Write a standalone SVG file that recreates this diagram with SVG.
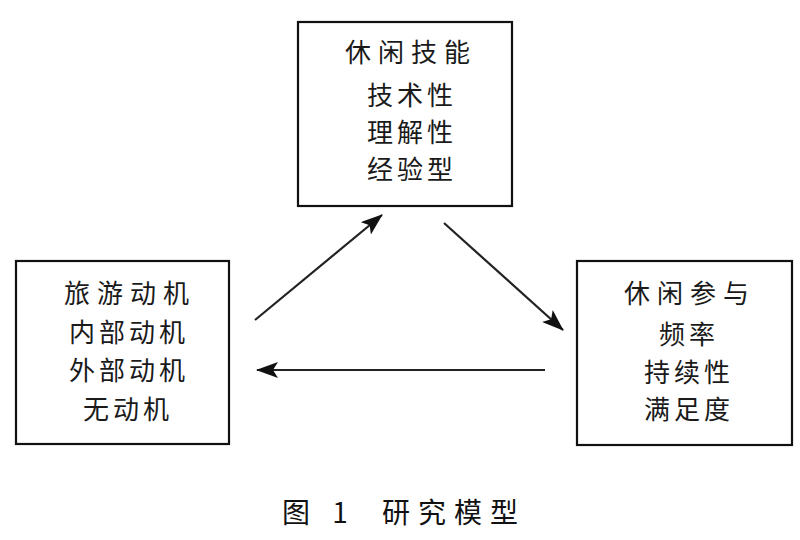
<svg xmlns="http://www.w3.org/2000/svg" width="800" height="540" viewBox="0 0 800 540">
<style>
.box{fill:#fff;stroke:#111;stroke-width:2.2}
.t{font-family:"Noto Sans CJK SC","Noto Sans CJK JP",sans-serif;font-size:26px;fill:#1a1a1a;text-anchor:middle}
.h{letter-spacing:7px}
.i{letter-spacing:4px}
.cap{font-family:"Noto Sans CJK SC",sans-serif;font-size:28px;fill:#111;letter-spacing:8px}
.c{stroke:#222;stroke-width:2.2;fill:none;marker-end:url(#ah)}
</style>
<defs>
<marker id="ah" markerUnits="userSpaceOnUse" viewBox="0 0 22 16" refX="21" refY="8" markerWidth="22" markerHeight="16" orient="auto">
<path d="M0,0 L22,8 L0,16 L5,8 Z" fill="#111"/>
</marker>
</defs>
<rect width="800" height="540" fill="#fff"/>
<g id="skills">
<rect class="box" x="298" y="22" width="214" height="184"/>
<text class="t h" x="411" y="62">休闲技能</text>
<text class="t i" x="412" y="105">技术性</text>
<text class="t i" x="412" y="142">理解性</text>
<text class="t i" x="412" y="179">经验型</text>
</g>
<g id="motivation">
<rect class="box" x="16" y="261" width="213" height="183"/>
<text class="t h" x="130" y="303">旅游动机</text>
<text class="t i" x="129" y="342">内部动机</text>
<text class="t i" x="129" y="380">外部动机</text>
<text class="t i" x="128" y="419">无动机</text>
</g>
<g id="participation">
<rect class="box" x="577" y="261" width="215" height="184"/>
<text class="t h" x="690" y="303">休闲参与</text>
<text class="t i" x="689" y="344">频率</text>
<text class="t i" x="689" y="382">持续性</text>
<text class="t i" x="689" y="419">满足度</text>
</g>
<g id="connectors">
<line class="c" x1="255" y1="320" x2="382" y2="215"/>
<line class="c" x1="444" y1="223" x2="563" y2="330"/>
<line class="c" x1="545" y1="370" x2="257" y2="370"/>
</g>
<g id="caption">
<text class="cap" x="282" y="523">图 1</text>
<text class="cap" x="382" y="523">研究模型</text>
</g>
</svg>
